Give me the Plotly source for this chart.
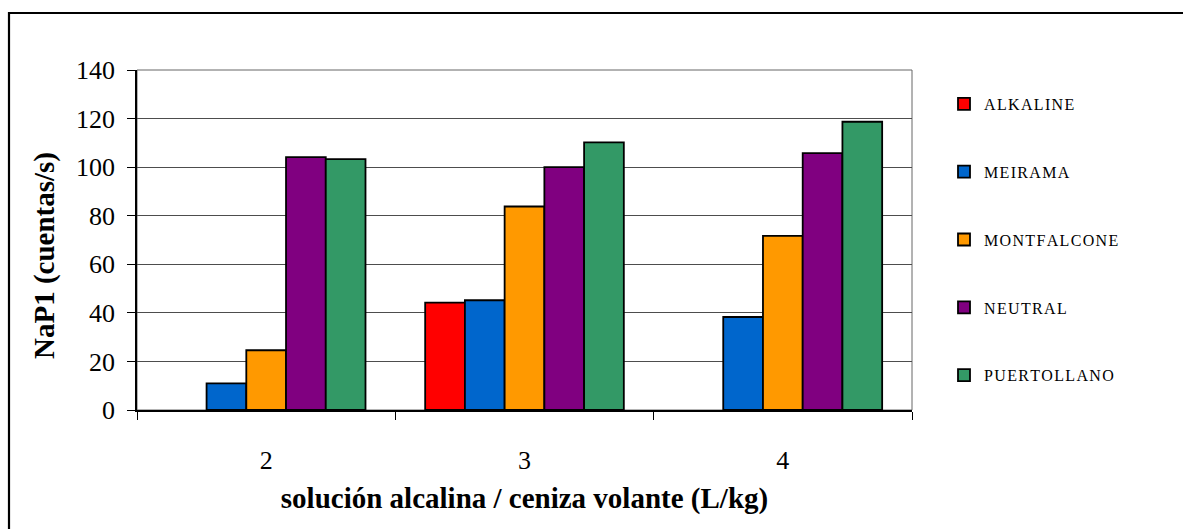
import plotly.graph_objects as go

categories = ["2", "3", "4"]
series_names = ["ALKALINE", "MEIRAMA", "MONTFALCONE", "NEUTRAL", "PUERTOLLANO"]
alkaline = [None, 44.2, None]
meirama = [11.0, 45.2, 38.3]
montfalcone = [24.6, 83.8, 71.7]
neutral = [104.1, 100.0, 105.8]
puertollano = [103.3, 110.2, 118.7]
colors = ["#FF0000", "#0066CC", "#FF9900", "#800080", "#339966"]
y_ticks = [0, 20, 40, 60, 80, 100, 120, 140]

values = [alkaline, meirama, montfalcone, neutral, puertollano]

FONT = "Liberation Serif, Times New Roman, serif"

fig = go.Figure()
for name, vals, col in zip(series_names, values, colors):
    spaced = "\u200a".join(name)
    fig.add_trace(go.Bar(
        x=categories, y=vals, name=spaced, legendgroup=name,
        marker=dict(color=col, line=dict(color="black", width=1.8)),
    ))

L, R, T, B = 137, 912, 70, 410
W, H = 1183, 529

def px_to_paper_x(px):
    return (px - L) / (R - L)

def px_to_paper_y(py):
    return (B - py) / (B - T)

fig.update_layout(
    width=W, height=H,
    margin=dict(l=L, r=W - R, t=T, b=H - B, pad=0),
    paper_bgcolor="white", plot_bgcolor="white",
    font=dict(family=FONT, color="black"),
    barmode="group", bargap=0.231, bargroupgap=0,
    legend=dict(
        x=px_to_paper_x(944), xanchor="left",
        y=px_to_paper_y(87), yanchor="top",
        font=dict(size=16, family=FONT),
        tracegroupgap=44, traceorder="grouped",
        bgcolor="rgba(0,0,0,0)",
    ),
    showlegend=True,
)

fig.update_xaxes(
    type="category", tickson="boundaries", ticks="outside", ticklen=8,
    tickcolor="black", tickwidth=1,
    showline=True, linecolor="black", linewidth=1.5,
    showgrid=False,
    tickfont=dict(size=26, family=FONT),
    ticklabelstandoff=26,
    title=dict(text="<b>solución alcalina / ceniza volante (L/kg)</b>",
               font=dict(size=29, family=FONT), standoff=14),
)
fig.update_yaxes(
    range=[0, 140], tickvals=y_ticks, ticks="outside", ticklen=8,
    tickcolor="black", tickwidth=1,
    showline=True, linecolor="black", linewidth=1.5,
    showgrid=True, gridcolor="#4d4d4d", gridwidth=1,
    zeroline=False,
    tickfont=dict(size=26, family=FONT),
    ticklabelstandoff=7,
)

# y-axis title placed slightly below the plot centre, as in the reference
fig.add_annotation(
    text="<b>NaP1 (cuentas/s)</b>", textangle=-90,
    xref="paper", yref="paper",
    x=px_to_paper_x(44), y=px_to_paper_y(256),
    xanchor="center", yanchor="middle", showarrow=False,
    font=dict(size=29, family=FONT, color="black"),
)

# plot area frame (gray, right side visible)
fig.add_shape(type="rect", xref="paper", yref="paper", x0=0, y0=0, x1=1, y1=1,
              line=dict(color="#666666", width=1), layer="below")

# outer chart border (top and left visible)
fig.add_shape(type="rect", xref="paper", yref="paper",
              x0=px_to_paper_x(9), y0=px_to_paper_y(545),
              x1=px_to_paper_x(1200), y1=px_to_paper_y(13),
              line=dict(color="black", width=2.2))

fig.write_html("out.html")
